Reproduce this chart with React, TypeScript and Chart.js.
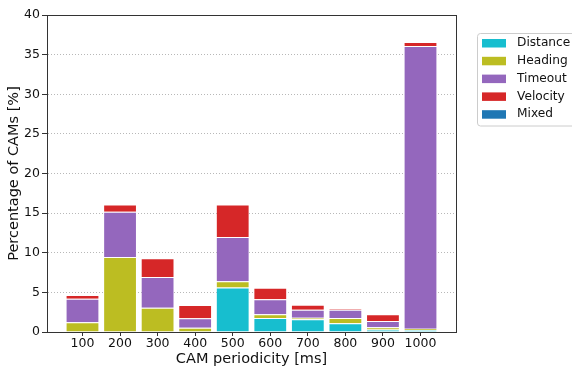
import React, { useEffect, useRef } from "react";
import { Chart, registerables } from "chart.js";

Chart.register(...registerables);

const categories = [100, 200, 300, 400, 500, 600, 700, 800, 900, 1000];
const distance = [0, 0, 0, 0, 5.6, 1.77, 1.6, 1.09, 0.3, 0.25];
const heading = [1.22, 9.46, 3.07, 0.55, 0.8, 0.46, 0.2, 0.68, 0.29, 0.17];
const timeout = [2.98, 5.72, 3.87, 1.17, 5.6, 1.89, 1.01, 1.04, 0.8, 35.68];
const velocity = [0.47, 0.92, 2.36, 1.68, 4.1, 1.47, 0.64, 0.13, 0.84, 0.5];
const mixed = [0, 0, 0, 0, 0, 0, 0, 0, 0, 0];
const yTicks = [0, 5, 10, 15, 20, 25, 30, 35, 40];

const seriesNames = ["Distance", "Heading", "Timeout", "Velocity", "Mixed"];
const seriesValues = [distance, heading, timeout, velocity, mixed];
const seriesColors = ["#17becf", "#bcbd22", "#9467bd", "#d62728", "#1f77b4"];

const FONT = "'DejaVu Sans', sans-serif";
const TEXT = "#111";
const SPINE = "#333";

const framePlugin = {
  id: "frameAndLegend",
  afterDraw(chart: any) {
    const { ctx, chartArea } = chart;
    ctx.save();
    ctx.strokeStyle = SPINE;
    ctx.lineWidth = 1;
    ctx.strokeRect(
      Math.round(chartArea.left) + 0.5,
      Math.round(chartArea.top) + 0.5,
      Math.round(chartArea.right - chartArea.left),
      Math.round(chartArea.bottom - chartArea.top)
    );
    const lx = 477.5;
    const ly = 33.5;
    const lw = 110;
    const lh = 92.5;
    ctx.fillStyle = "rgba(255,255,255,0.8)";
    ctx.strokeStyle = "#cccccc";
    ctx.beginPath();
    (ctx as any).roundRect(lx, ly, lw, lh, 3);
    ctx.fill();
    ctx.stroke();
    ctx.font = `12.2px ${FONT}`;
    ctx.textBaseline = "middle";
    ctx.textAlign = "left";
    chart.data.datasets.forEach((ds: any, i: number) => {
      const cy = 43 + i * 17.8;
      ctx.fillStyle = ds.backgroundColor;
      ctx.fillRect(482, cy - 4, 24, 8.5);
      ctx.fillStyle = TEXT;
      ctx.fillText(ds.label, 517, cy);
    });
    ctx.restore();
  },
};

export default function App() {
  const ref = useRef<HTMLCanvasElement>(null);
  useEffect(() => {
    const canvas = ref.current;
    if (!canvas) return;
    const datasets = seriesNames.map((name, i) => ({
      label: name,
      data: categories.map((c, j) => ({ x: c, y: seriesValues[i][j] })),
      backgroundColor: seriesColors[i],
      borderColor: "rgba(255,255,255,0.2)",
      borderWidth: 1,
      barPercentage: 0.9,
      categoryPercentage: 1.0,
    }));
    const chart = new Chart(canvas, {
      type: "bar",
      data: { datasets },
      options: {
        responsive: false,
        animation: false,
        maintainAspectRatio: false,
        layout: { padding: { left: 0, top: 15, right: 116, bottom: 0 } },
        plugins: { legend: { display: false }, tooltip: { enabled: false } },
        scales: {
          x: {
            type: "linear",
            stacked: true,
            offset: false,
            min: 5.5,
            max: 1094.5,
            afterBuildTicks: (axis: any) => {
              axis.ticks = categories.map((v) => ({ value: v }));
            },
            afterFit: (scale: any) => {
              scale.height = 37;
            },
            ticks: {
              autoSkip: false,
              maxRotation: 0,
              padding: 0,
              color: TEXT,
              font: { family: FONT, size: 12.5 },
              callback: (v: any) => String(v),
            },
            grid: {
              display: true,
              offset: false,
              drawOnChartArea: false,
              drawTicks: true,
              tickLength: 4,
              tickColor: SPINE,
            },
            border: { display: true, color: SPINE, width: 1 },
            title: {
              display: true,
              text: "CAM periodicity [ms]",
              color: TEXT,
              font: { family: FONT, size: 14.5 },
              padding: { top: 0, bottom: 1 },
            },
          },
          y: {
            type: "linear",
            stacked: true,
            min: 0,
            max: 40,
            afterBuildTicks: (axis: any) => {
              axis.ticks = yTicks.map((v) => ({ value: v }));
            },
            afterFit: (scale: any) => {
              scale.width = 47;
            },
            ticks: {
              padding: 2,
              color: TEXT,
              font: { family: FONT, size: 12.5 },
              callback: (v: any) => String(v),
            },
            grid: {
              color: "#b8b8b8",
              lineWidth: 1,
              drawTicks: true,
              tickLength: 5,
              tickColor: SPINE,
              tickBorderDash: [],
            },
            border: { display: true, color: SPINE, width: 1, dash: [1, 2] },
            title: {
              display: true,
              text: "Percentage of CAMs [%]",
              color: TEXT,
              font: { family: FONT, size: 14.5 },
              padding: { top: 6, bottom: 0 },
            },
          },
        },
      },
      plugins: [framePlugin],
    });
    return () => chart.destroy();
  }, []);
  return (
    <div style={{ position: "fixed", left: 0, top: 0, width: 572, height: 369, background: "#fff" }}>
      <canvas ref={ref} width={572} height={369} style={{ width: 572, height: 369, display: "block" }} />
    </div>
  );
}
